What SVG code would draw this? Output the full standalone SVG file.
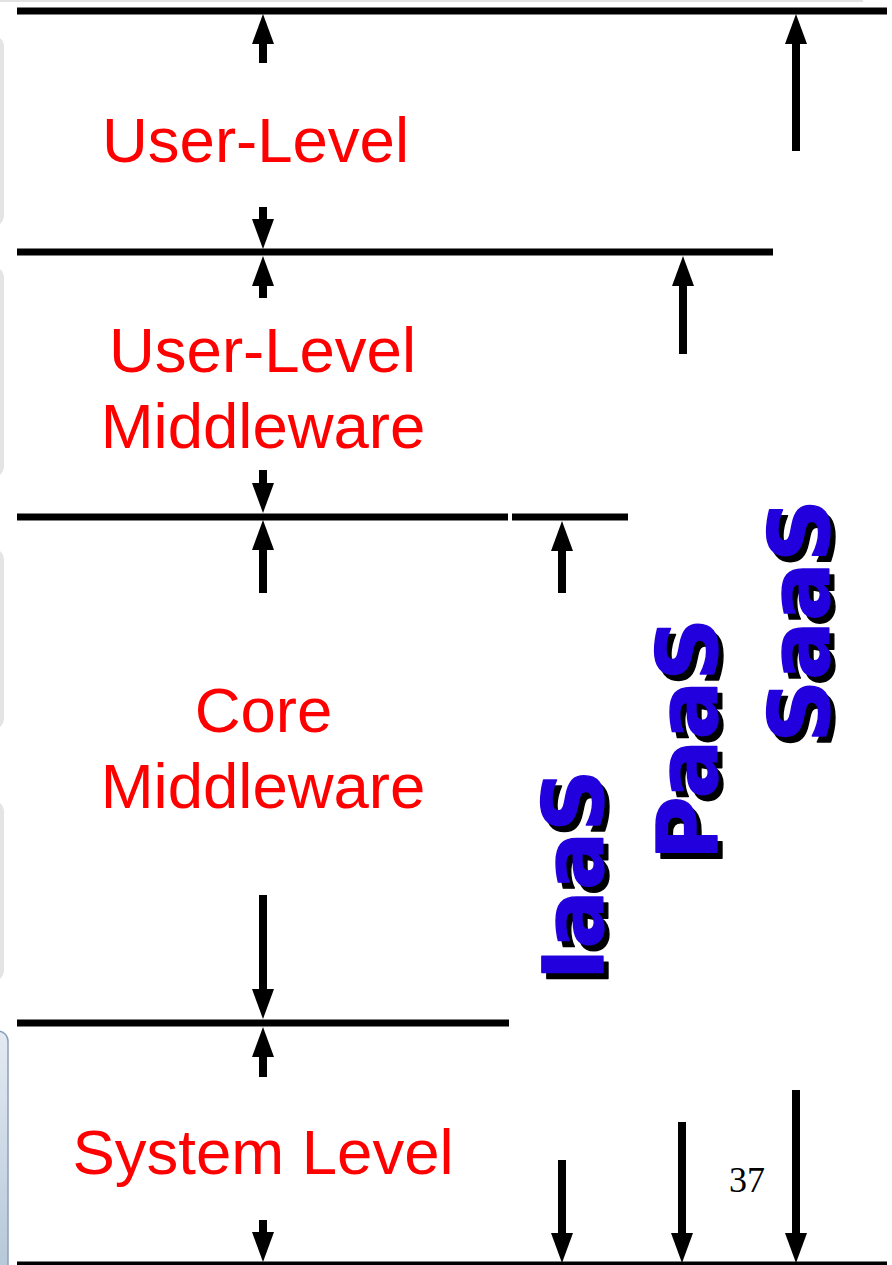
<svg xmlns="http://www.w3.org/2000/svg" width="892" height="1265" viewBox="0 0 892 1265">
<style>
.lvl{stroke:#000;stroke-width:7;fill:none}
.arr{stroke:#000;stroke-width:8;fill:none;marker-end:url(#ah)}
.lbl{font-family:"Liberation Sans",Arial,sans-serif;font-size:63.5px;fill:#ff0000;text-anchor:middle}
.svc{font-family:"DejaVu Sans",sans-serif;font-weight:bold;font-size:84px;text-anchor:middle;stroke-width:1.4;stroke-linejoin:round}
.blue{fill:#2200dd;stroke:#2200dd}
.shadow{fill:#000;stroke:#000}
.edge{fill:#e4e4e4}
</style>
<defs>
<marker id="ah" markerUnits="userSpaceOnUse" markerWidth="30" markerHeight="22" refX="10" refY="11" orient="auto" overflow="visible">
<path d="M0,0 L30,11 L0,22 Z" fill="#000"/>
</marker>
<linearGradient id="bg" x1="0" y1="0" x2="0" y2="1">
<stop offset="0" stop-color="#e4eaf2"/>
<stop offset="1" stop-color="#b4c6d8"/>
</linearGradient>
</defs>
<rect width="892" height="1265" fill="#fff"/>
<g id="slide-edges">
<line x1="0" y1="1" x2="863" y2="1" stroke="#e2e2e2" stroke-width="2"/>
<rect class="edge" x="-40" y="35" width="44" height="192" rx="12"/>
<rect class="edge" x="-40" y="266" width="44" height="212" rx="12"/>
<rect class="edge" x="-40" y="548" width="44" height="182" rx="12"/>
<rect class="edge" x="-40" y="800" width="44" height="182" rx="12"/>
<rect x="-40" y="1031" width="48" height="250" rx="10" fill="url(#bg)" stroke="#8aa0b8" stroke-width="1.5"/>
</g>
<g id="level-lines">
<line class="lvl" x1="17" y1="11" x2="887" y2="11"/>
<line class="lvl" x1="17" y1="252" x2="773" y2="252"/>
<line class="lvl" x1="17" y1="517" x2="508" y2="517"/>
<line class="lvl" x1="512" y1="517" x2="628" y2="517"/>
<line class="lvl" x1="17" y1="1023" x2="509" y2="1023"/>
<line class="lvl" x1="17" y1="1265" x2="887" y2="1265"/>
</g>
<g id="connectors">
<line class="arr" x1="263" y1="63" x2="263" y2="34"/>
<line class="arr" x1="263" y1="207" x2="263" y2="229"/>
<line class="arr" x1="263" y1="298" x2="263" y2="276"/>
<line class="arr" x1="263" y1="470" x2="263" y2="493"/>
<line class="arr" x1="263" y1="593" x2="263" y2="540"/>
<line class="arr" x1="263" y1="895" x2="263" y2="999"/>
<line class="arr" x1="263" y1="1077" x2="263" y2="1047"/>
<line class="arr" x1="263" y1="1220" x2="263" y2="1242"/>
<line class="arr" x1="796" y1="151" x2="796" y2="34"/>
<line class="arr" x1="683" y1="354" x2="683" y2="276"/>
<line class="arr" x1="562" y1="593" x2="562" y2="541"/>
<line class="arr" x1="562" y1="1160" x2="562" y2="1243"/>
<line class="arr" x1="682" y1="1122" x2="682" y2="1243"/>
<line class="arr" x1="796" y1="1090" x2="796" y2="1243"/>
</g>
<g id="user-level"><text class="lbl" x="255.5" y="162">User-Level</text></g>
<g id="user-level-middleware"><text class="lbl" x="262.5" y="372">User-Level</text><text class="lbl" x="263" y="448">Middleware</text></g>
<g id="core-middleware"><text class="lbl" x="263.5" y="732">Core</text><text class="lbl" x="263" y="808">Middleware</text></g>
<g id="system-level"><text class="lbl" x="263" y="1174">System Level</text></g>
<g id="iaas">
<text class="svc shadow" transform="translate(608,881) rotate(-90) scale(1.03,1)">IaaS</text>
<text class="svc blue" transform="translate(603,875) rotate(-90) scale(1.03,1)">IaaS</text>
</g>
<g id="paas">
<text class="svc shadow" transform="translate(722,745) rotate(-90) scale(1.04,1)">PaaS</text>
<text class="svc blue" transform="translate(717,739) rotate(-90) scale(1.04,1)">PaaS</text>
</g>
<g id="saas">
<text class="svc shadow" transform="translate(834,627) rotate(-90) scale(1.04,1)">SaaS</text>
<text class="svc blue" transform="translate(829,621) rotate(-90) scale(1.04,1)">SaaS</text>
</g>
<g id="page-number"><text x="729" y="1192" font-family="Liberation Serif,'Times New Roman',serif" font-size="36" fill="#000">37</text></g>
</svg>
